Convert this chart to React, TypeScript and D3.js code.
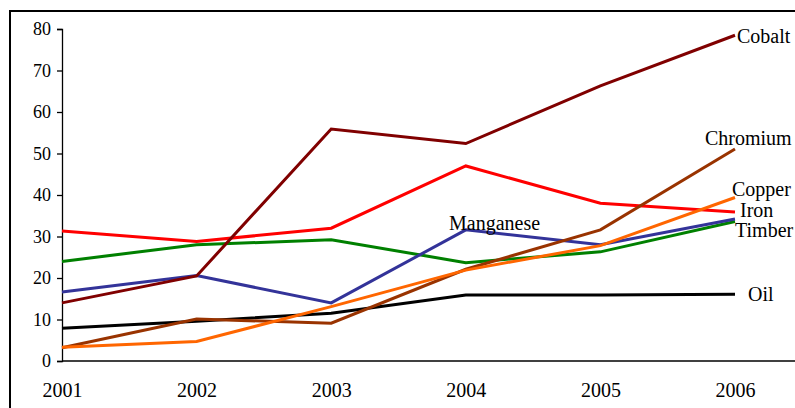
//this component renders the minerals price line chart
import * as d3 from 'd3';
import React, { useEffect, useRef } from 'react';

const years = ['2001', '2002', '2003', '2004', '2005', '2006'];
const yTicks = [0, 10, 20, 30, 40, 50, 60, 70, 80];

const cobalt = [14.0, 20.5, 55.9, 52.4, 66.3, 78.5];
const iron = [31.3, 28.8, 32.0, 47.0, 38.0, 35.9];
const timber = [24.0, 28.0, 29.2, 23.7, 26.3, 33.6];
const manganese = [16.6, 20.6, 14.0, 31.6, 28.0, 34.2];
const oil = [7.9, 9.6, 11.5, 15.9, 15.9, 16.1];
const chromium = [3.2, 10.1, 9.1, 22.1, 31.6, 51.1];
const copper = [3.3, 4.7, 13.1, 21.9, 27.8, 39.4];

const seriesNames = ['Iron', 'Timber', 'Manganese', 'Oil', 'Chromium', 'Copper', 'Cobalt'];
const seriesValues = [iron, timber, manganese, oil, chromium, copper, cobalt];
const seriesColors = ['#ff0000', '#008000', '#333399', '#000000', '#993300', '#ff6600', '#800000'];

const FONT = '"Liberation Serif", "Times New Roman", serif';

const App = () => {
  const svgRef = useRef(null);

  useEffect(() => {
    const svg = d3.select(svgRef.current);
    svg.selectAll('*').remove();

    const x = d3.scalePoint().domain(years).range([62, 735]);
    const y = d3.scaleLinear().domain([0, 80]).range([361, 29]);

    //outer frame of the chart area
    svg
      .append('rect')
      .attr('x', 10)
      .attr('y', 11)
      .attr('width', 820)
      .attr('height', 440)
      .attr('fill', 'none')
      .attr('stroke', 'black')
      .attr('stroke-width', 2);

    //y axis with ticks on the left
    const yAxis = svg
      .append('g')
      .attr('transform', `translate(${x('2001')}, 0)`)
      .call(d3.axisLeft(y).tickValues(yTicks).tickSize(5).tickPadding(6))
      .attr('font-family', FONT)
      .attr('font-size', 18);
    yAxis.select('.domain').attr('stroke', 'black').attr('stroke-width', 1.3);
    yAxis.selectAll('.tick line').attr('stroke', 'black').attr('stroke-width', 1.3);
    yAxis.selectAll('.tick text').attr('fill', 'black');

    //x axis, only the base line and the year labels
    const xAxis = svg
      .append('g')
      .attr('transform', `translate(0, ${y(0)})`)
      .call(d3.axisBottom(x).tickSize(0).tickPadding(22))
      .attr('font-family', FONT)
      .attr('font-size', 20);
    xAxis.select('.domain').attr('stroke', 'black').attr('stroke-width', 1.3).attr('d', `M62,0H800`);
    xAxis.selectAll('.tick text').attr('fill', 'black');

    const line = d3
      .line()
      .x((d, i) => x(years[i]))
      .y((d) => y(d));

    //drawing every series line
    seriesValues.forEach((vals, i) => {
      svg
        .append('path')
        .datum(vals)
        .attr('d', line)
        .attr('fill', 'none')
        .attr('stroke', seriesColors[i])
        .attr('stroke-width', 3)
        .attr('stroke-linejoin', 'miter');
    });

    //series labels placed next to the lines
    const labelPos = {
      Cobalt: [737, 43],
      Chromium: [705, 145],
      Copper: [732, 196],
      Iron: [740, 217],
      Timber: [735, 237],
      Oil: [748, 301],
      Manganese: [449, 230]
    };
    seriesNames.forEach((name) => {
      svg
        .append('text')
        .attr('x', labelPos[name][0])
        .attr('y', labelPos[name][1])
        .style('font-family', FONT)
        .attr('font-size', 20)
        .attr('fill', 'black')
        .text(name);
    });
  }, []);

  return (
    <div style={{ position: 'fixed', left: 0, top: 0 }}>
      <svg ref={svgRef} width={795} height={408} style={{ display: 'block', background: 'white' }}></svg>
    </div>
  );
};

export default App;
